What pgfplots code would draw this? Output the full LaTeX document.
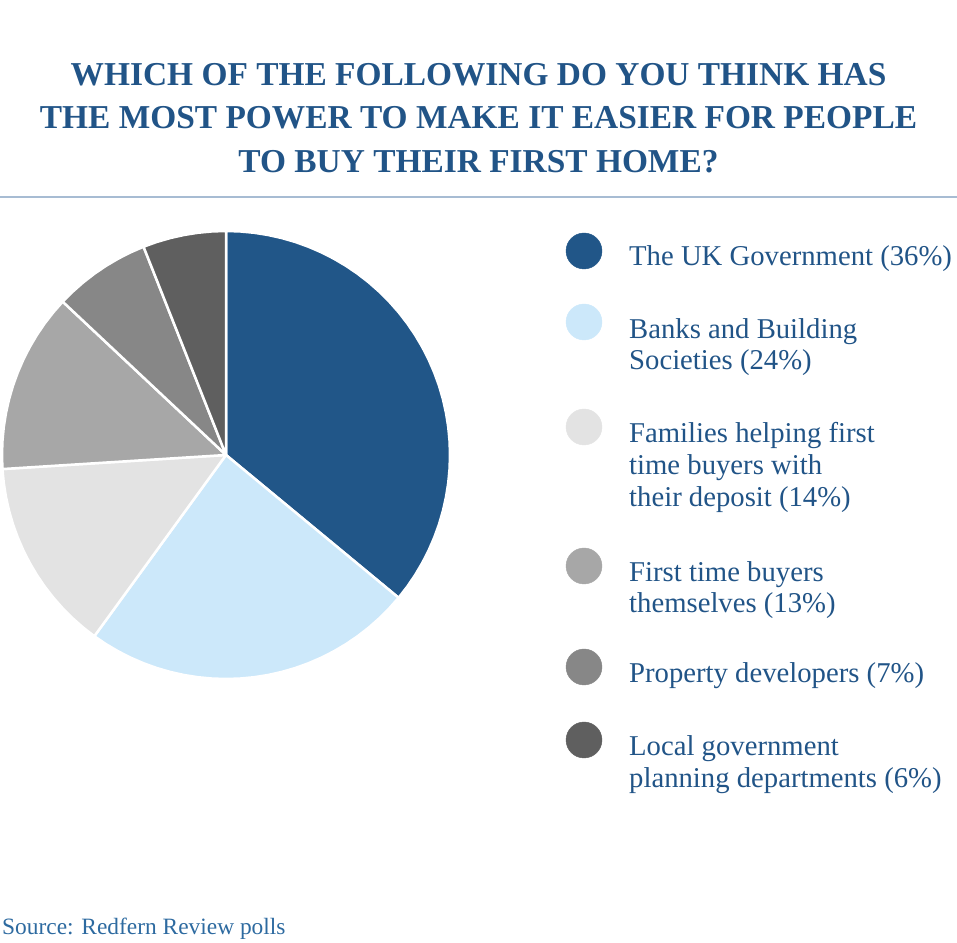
\documentclass[border=0pt]{standalone}
\usepackage{pgfplots}
\pgfplotsset{compat=1.18}
\usepackage{fontspec}
\setmainfont{Liberation Serif}
\definecolor{tblue}{HTML}{215487}
\definecolor{sblue}{HTML}{2D6AA0}
\definecolor{rulecol}{HTML}{A7BCD3}
\definecolor{c1}{HTML}{215688}
\definecolor{c2}{HTML}{CCE8FA}
\definecolor{c3}{HTML}{E3E3E3}
\definecolor{c4}{HTML}{A7A7A7}
\definecolor{c5}{HTML}{878787}
\definecolor{c6}{HTML}{5F5F5F}
\begin{document}
\begin{tikzpicture}[x=1pt,y=1pt]
\useasboundingbox (0,0) rectangle (957,942);
% title
\begin{scope}[every node/.style={anchor=base, inner sep=0, text=tblue, font=\fontsize{33.4}{43.5}\selectfont\bfseries}]
\node at (478.5,856) {WHICH OF THE FOLLOWING DO YOU THINK HAS};
\node at (478.5,813) {THE MOST POWER TO MAKE IT EASIER FOR PEOPLE};
\node at (478.5,769) {TO BUY THEIR FIRST HOME?};
\end{scope}
\draw[rulecol, line width=2pt] (0,745) -- (957,745);
% pie
\begin{axis}[at={(226pt,487pt)}, anchor=center, width=448pt, height=448pt,
  scale only axis, xmin=-1, xmax=1, ymin=-1, ymax=1, hide axis, clip=false,
  data cs=polar]
\addplot[fill=c1, draw=white, line width=2.5pt, line join=round] coordinates {(0,0)
 (90,1) (86.4,1) (82.8,1) (79.2,1) (75.6,1) (72,1) (68.4,1) (64.8,1) (61.2,1) (57.6,1)
 (54,1) (50.4,1) (46.8,1) (43.2,1) (39.6,1) (36,1) (32.4,1) (28.8,1) (25.2,1) (21.6,1)
 (18,1) (14.4,1) (10.8,1) (7.2,1) (3.6,1) (0,1) (-3.6,1) (-7.2,1) (-10.8,1) (-14.4,1)
 (-18,1) (-21.6,1) (-25.2,1) (-28.8,1) (-32.4,1) (-36,1) (-39.6,1) (0,0)};
\addplot[fill=c2, draw=white, line width=2.5pt, line join=round] coordinates {(0,0)
 (-39.6,1) (-43.2,1) (-46.8,1) (-50.4,1) (-54,1) (-57.6,1) (-61.2,1) (-64.8,1) (-68.4,1)
 (-72,1) (-75.6,1) (-79.2,1) (-82.8,1) (-86.4,1) (-90,1) (-93.6,1) (-97.2,1) (-100.8,1)
 (-104.4,1) (-108,1) (-111.6,1) (-115.2,1) (-118.8,1) (-122.4,1) (-126,1) (0,0)};
\addplot[fill=c3, draw=white, line width=2.5pt, line join=round] coordinates {(0,0)
 (-126,1) (-129.6,1) (-133.2,1) (-136.8,1) (-140.4,1) (-144,1) (-147.6,1) (-151.2,1)
 (-154.8,1) (-158.4,1) (-162,1) (-165.6,1) (-169.2,1) (-172.8,1) (-176.4,1) (0,0)};
\addplot[fill=c4, draw=white, line width=2.5pt, line join=round] coordinates {(0,0)
 (-176.4,1) (-180,1) (-183.6,1) (-187.2,1) (-190.8,1) (-194.4,1) (-198,1) (-201.6,1)
 (-205.2,1) (-208.8,1) (-212.4,1) (-216,1) (-219.6,1) (-223.2,1) (0,0)};
\addplot[fill=c5, draw=white, line width=2.5pt, line join=round] coordinates {(0,0)
 (-223.2,1) (-226.8,1) (-230.4,1) (-234,1) (-237.6,1) (-241.2,1) (-244.8,1) (-248.4,1) (0,0)};
\addplot[fill=c6, draw=white, line width=2.5pt, line join=round] coordinates {(0,0)
 (-248.4,1) (-252,1) (-255.6,1) (-259.2,1) (-262.8,1) (-266.4,1) (-270,1) (0,0)};
\end{axis}
% legend keys
\begin{axis}[at={(0pt,0pt)}, anchor=south west, width=957pt, height=942pt,
  scale only axis, xmin=0, xmax=957, ymin=0, ymax=942, hide axis, clip=false]
\addplot[only marks, mark=*, mark size=18pt, color=c1] coordinates {(584,691)};
\addplot[only marks, mark=*, mark size=18pt, color=c2] coordinates {(584,620)};
\addplot[only marks, mark=*, mark size=18pt, color=c3] coordinates {(584,515)};
\addplot[only marks, mark=*, mark size=18pt, color=c4] coordinates {(584,376)};
\addplot[only marks, mark=*, mark size=18pt, color=c5] coordinates {(584,275)};
\addplot[only marks, mark=*, mark size=18pt, color=c6] coordinates {(584,202)};
\end{axis}
% legend text
\begin{scope}[every node/.style={anchor=base west, inner sep=0, text=tblue, font=\fontsize{28.7}{31.7}\selectfont}]
\node at (629,676) {The UK Government (36\%)};
\node at (629,603) {Banks and Building};
\node at (629,572) {Societies (24\%)};
\node at (629,499) {Families helping first};
\node at (629,467) {time buyers with};
\node at (629,435) {their deposit (14\%)};
\node at (629,360) {First time buyers};
\node at (629,329) {themselves (13\%)};
\node at (629,259) {Property developers (7\%)};
\node at (629,187) {Local government};
\node at (629,155) {planning departments (6\%)};
\end{scope}
\node[anchor=base west, inner sep=0, text=sblue, font=\fontsize{23.4}{28}\selectfont] at (2,8) {Source: Redfern Review polls};
\end{tikzpicture}
\end{document}
